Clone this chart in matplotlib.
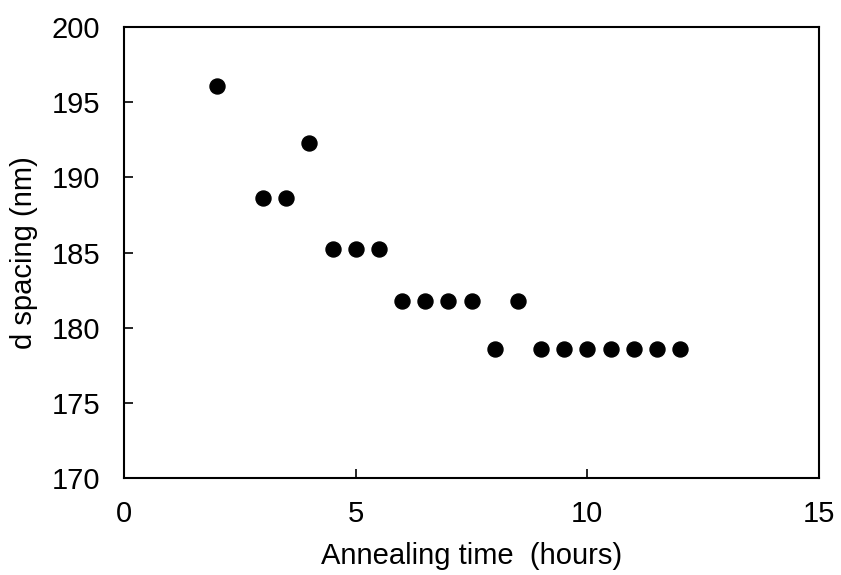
import matplotlib
matplotlib.use("Agg")
import matplotlib.pyplot as plt

time_hours = [2, 3, 3.5, 4, 4.5, 5, 5.5, 6, 6.5, 7, 7.5, 8, 8.5, 9, 9.5, 10, 10.5, 11, 11.5, 12]
d_spacing = [196.1, 188.6, 188.6, 192.3, 185.2, 185.2, 185.2, 181.8, 181.8, 181.8, 181.8,
             178.6, 181.8, 178.6, 178.6, 178.6, 178.6, 178.6, 178.6, 178.6]
x_ticks = [0, 5, 10, 15]
y_ticks = [170, 175, 180, 185, 190, 195, 200]

plt.rcParams['font.family'] = ['Liberation Sans', 'DejaVu Sans']
fig = plt.figure(figsize=(8.41, 5.75), dpi=100)
ax = fig.add_axes([124/841, 1 - 478/575, (819-124)/841, (478-27)/575])
ax.plot(time_hours, d_spacing, 'o', color='black', markersize=10.8, linestyle='none')
ax.set_xlim(0, 15)
ax.set_ylim(170, 200)
ax.set_xticks(x_ticks)
ax.set_yticks(y_ticks)
ax.tick_params(direction='in', length=6.5, width=1.2, labelsize=21, colors='black')
ax.tick_params(axis='y', pad=17)
ax.tick_params(axis='x', pad=16)
for s in ax.spines.values():
    s.set_linewidth(1.5)
ax.set_xlabel('Annealing time  (hours)', fontsize=21, labelpad=10)
ax.set_ylabel('d spacing (nm)', fontsize=21, labelpad=10)
fig.savefig('out.png', dpi=100)
